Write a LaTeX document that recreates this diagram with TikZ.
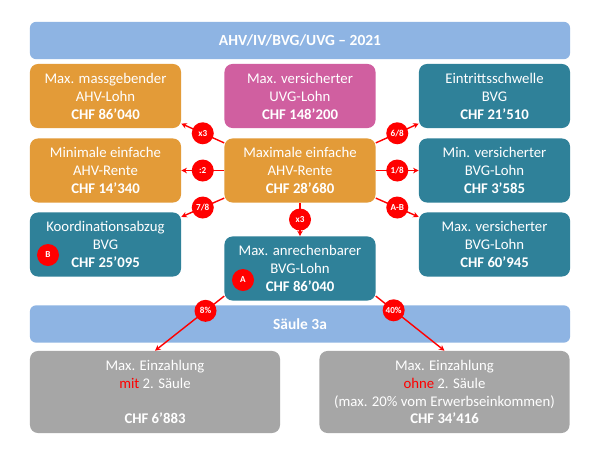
\documentclass[tikz,border=0pt]{standalone}
\usepackage{fontspec}
\setmainfont{Carlito}
\usetikzlibrary{arrows.meta}
\definecolor{ahvorange}{RGB}{227,155,56}
\definecolor{uvgpink}{RGB}{208,95,160}
\definecolor{bvgteal}{RGB}{47,129,153}
\definecolor{barblue}{RGB}{142,180,227}
\definecolor{boxgray}{RGB}{166,166,166}
\begin{document}
\begin{tikzpicture}[x=0.025cm, y=-0.025cm,
  every node/.style={font=\fontsize{10.5}{12.75}\selectfont, text=white},
  box/.style={rounded corners=0.2cm, align=center, minimum width=3.775cm, minimum height=1.6cm, inner sep=0pt},
  graybox/.style={box, fill=boxgray, minimum width=6.25cm, minimum height=2.05cm},
  bar/.style={rounded corners=0.15cm, fill=barblue, minimum width=13.5cm, minimum height=0.93cm, font=\fontsize{11}{13}\selectfont\bfseries},
  badge/.style={circle, fill=red, minimum size=0.55cm, inner sep=0pt, font=\fontsize{6.5}{7}\selectfont\bfseries},
  link/.style={red, line width=1pt, -{Stealth[length=4pt,width=4pt]}}]
  \fill[white] (0,0) rectangle (600,450);
  \useasboundingbox (0,0) rectangle (600,450);

  \node[bar] (title) at (300,40.5) {AHV/IV/BVG/UVG – 2021};

  \node[box, fill=ahvorange] (mAHV) at (105.5,96) {Max. massgebender\\AHV-Lohn\\\textbf{CHF 86’040}};
  \node[box, fill=uvgpink] (mUVG) at (300,96) {Max. versicherter\\UVG-Lohn\\\textbf{CHF 148’200}};
  \node[box, fill=bvgteal] (eBVG) at (494.5,96) {Eintrittsschwelle\\BVG\\\textbf{CHF 21’510}};

  \node[box, fill=ahvorange] (minAHV) at (105.5,170.5) {Minimale einfache\\AHV-Rente\\\textbf{CHF 14’340}};
  \node[box, fill=ahvorange] (maxAHV) at (300,170.5) {Maximale einfache\\AHV-Rente\\\textbf{CHF 28’680}};
  \node[box, fill=bvgteal] (minBVG) at (494.5,170.5) {Min. versicherter\\BVG-Lohn\\\textbf{CHF 3’585}};

  \node[box, fill=bvgteal] (koord) at (105.5,244.5) {Koordinationsabzug\\BVG\\\textbf{CHF 25’095}};
  \node[box, fill=bvgteal] (maxBVG) at (494.5,244.5) {Max. versicherter\\BVG-Lohn\\\textbf{CHF 60’945}};
  \node[box, fill=bvgteal] (anrech) at (300,268.5) {Max. anrechenbarer\\BVG-Lohn\\\textbf{CHF 86’040}};

  \node[badge] (bA) at (243,280) {A};
  \node[badge] (bB) at (48,255) {B};

  \node[bar] (s3a) at (300,324) {Säule 3a};

  \node[graybox] (mit) at (155,392) {Max. Einzahlung\\{\color{red}mit} 2. Säule\\~\\\textbf{CHF 6’883}};
  \node[graybox] (ohne) at (444.5,392) {Max. Einzahlung\\{\color{red}ohne} 2. Säule\\(max. 20\% vom Erwerbseinkommen)\\\textbf{CHF 34’416}};

  \draw[link] (maxAHV.160) -- node[badge] (k1) {x3} (mAHV.-20);
  \draw[link] (maxAHV.west) -- node[badge] (k2) {:2} (minAHV.east);
  \draw[link] (maxAHV.200) -- node[badge] (k3) {7/8} (koord.20);
  \draw[link] (maxAHV.south) -- node[badge] (k4) {x3} (anrech.north);
  \draw[link] (maxAHV.20) -- node[badge] (k5) {6/8} (eBVG.200);
  \draw[link] (maxAHV.east) -- node[badge] (k6) {1/8} (minBVG.west);
  \draw[link] (maxAHV.-20) -- node[badge] (k7) {A-B} (maxBVG.160);
  \draw[link] (anrech.200) -- node[badge, pos=0.27] (k8) {8\%} (mit.north);
  \draw[link] (anrech.-20) -- node[badge, pos=0.26] (k9) {40\%} (ohne.north);
\end{tikzpicture}
\end{document}
